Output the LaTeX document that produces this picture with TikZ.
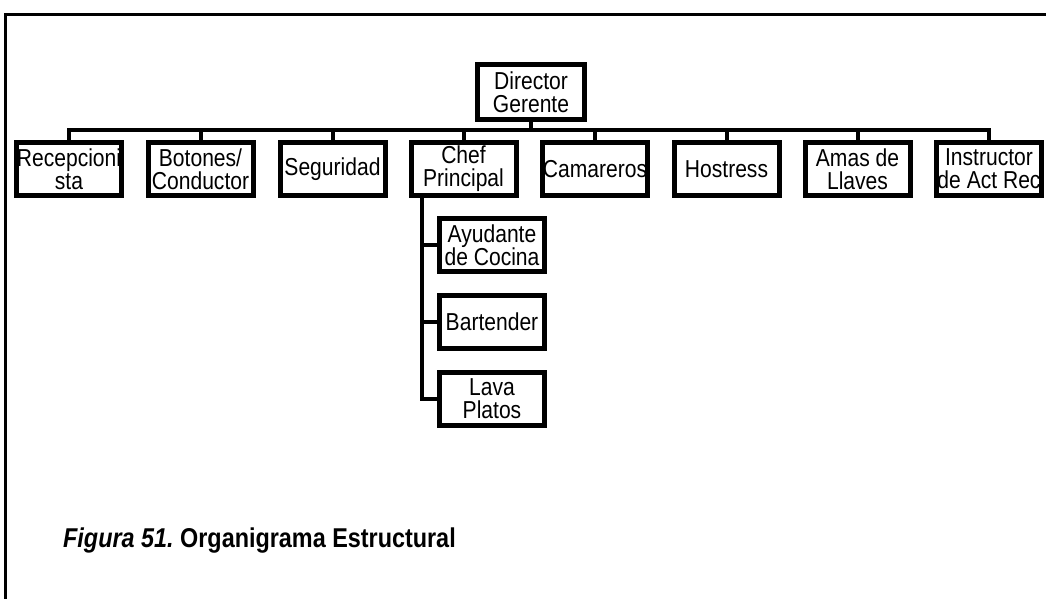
\documentclass[tikz,border=0pt]{standalone}
\usepackage{fontspec}
\setmainfont[FakeStretch=0.86]{Liberation Sans}
\begin{document}
\begin{tikzpicture}[x=1pt,y=-1pt,
  unit/.style={draw, line width=5pt, minimum width=105pt, minimum height=53pt,
    inner sep=0pt, align=center, font=\fontsize{24.5}{23}\selectfont},
  link/.style={line width=4pt, line cap=rect},
  frameline/.style={line width=3pt}]
\useasboundingbox (0,0) rectangle (1046,599);
\clip (0,0) rectangle (1046,599);
% page frame
\draw[frameline] (5,640) -- (5,15) -- (1080,15);

% top
\node[unit, minimum width=107pt, minimum height=55pt] (dir) at (531,92) {Director\\Gerente};

% second level
\node[unit] (rec) at (69,169)    {Recepcioni\\sta};
\node[unit] (bot) at (200.5,169) {Botones/\\Conductor};
\node[unit] (seg) at (332.5,169) {Seguridad};
\node[unit] (chef) at (463.5,169) {Chef\\Principal};
\node[unit] (cam) at (595,169)   {Camareros};
\node[unit] (hos) at (726.5,169) {Hostress};
\node[unit] (ama) at (857.5,169) {Amas de\\Llaves};
\node[unit] (ins) at (989,169)   {Instructor\\de Act Rec};

% kitchen staff
\node[unit] (ayu) at (492,245) {Ayudante\\de Cocina};
\node[unit] (bar) at (492,322) {Bartender};
\node[unit] (lav) at (492,399) {Lava\\Platos};

% caption
\node[anchor=base west, inner sep=0pt, font=\fontsize{27.2}{29}\selectfont\bfseries] (cap) at (63,547)
  {\frenchspacing{\itshape Figura 51.} Organigrama Estructural};

% connectors
\coordinate (busy) at (0,130);
\coordinate (trunk) at (422,0);
\draw[link] (dir.south) -- (dir.south |- busy);
\draw[link] (rec.north) -- (rec.north |- busy) -- (ins.north |- busy) -- (ins.north);
\foreach \n in {bot,seg,chef,cam,hos,ama}
  \draw[link] (\n.north) -- (\n.north |- busy);
\draw[link] (chef.south -| trunk) |- (lav.west);
\draw[link] (ayu.west) -- (ayu.west -| trunk);
\draw[link] (bar.west) -- (bar.west -| trunk);
\end{tikzpicture}
\end{document}
